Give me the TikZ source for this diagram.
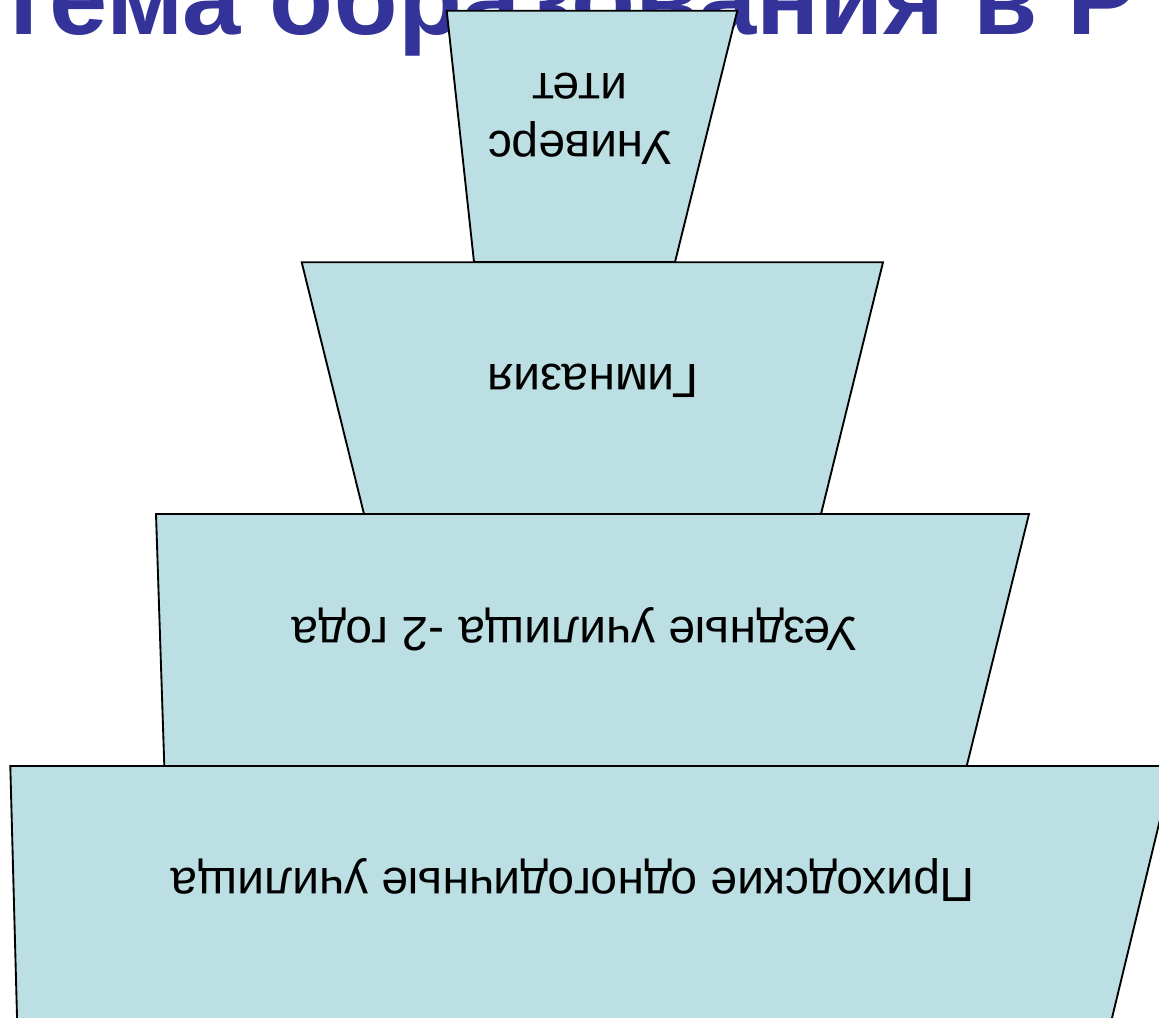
\documentclass[tikz,border=0pt]{standalone}
\usepackage{fontspec}
\setmainfont{Liberation Sans}
\definecolor{tierfill}{RGB}{187,223,227}
\definecolor{titleblue}{RGB}{51,51,153}
\begin{document}
\begin{tikzpicture}[x=0.75pt,y=-0.75pt,
  tier/.style={fill=tierfill,draw=black,line width=1.4pt,line join=miter},
  tiertext/.style={rotate=180,anchor=base,inner sep=0pt,font=\fontsize{36}{43.5}\selectfont,align=center},
  titletext/.style={anchor=base west,inner sep=0pt,text=titleblue,font=\fontsize{78.5}{86}\selectfont\bfseries}]
\useasboundingbox (0,0) rectangle (1159,1017);
\clip (0,0) rectangle (1159,1017);
\node[titletext] (title) at (-2,34) {тема образования в Р};
\draw[tier] (446.7,10.7) -- (737.3,10.7) -- (675,262) -- (474,262) -- cycle;
\draw[tier] (301.7,262.3) -- (883,262.3) -- (821,514) -- (364,514) -- cycle;
\draw[tier] (156,514) -- (1029,514) -- (966.7,766) -- (164.3,766) -- cycle;
\draw[tier] (10.3,766) -- (1173,766) -- (1111.5,1020) -- (17.1,1020) -- cycle;
\node[tiertext] (univ) at (580,73) {Универс\\итет};
\node[tiertext] (gymn) at (593,364) {Гимназия};
\node[tiertext] (uezd) at (575,617) {Уездные училища -2 года};
\node[tiertext] (prikh) at (573,868) {Приходские одногодичные училища};
\end{tikzpicture}
\end{document}
